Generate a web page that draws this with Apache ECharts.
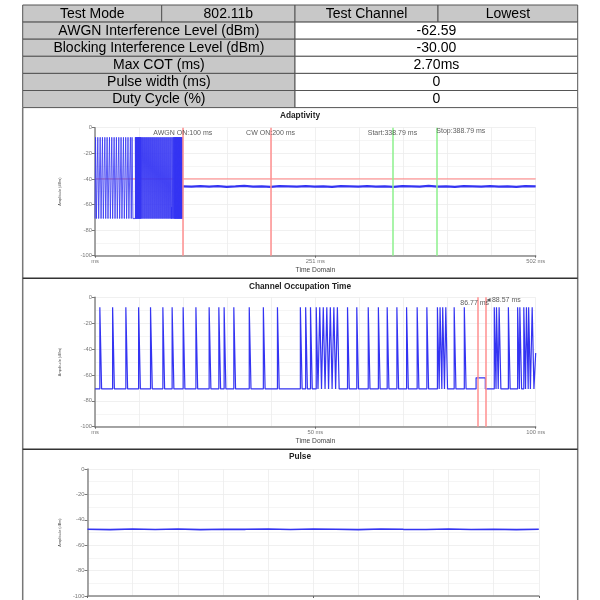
<!DOCTYPE html>
<html>
<head>
<meta charset="utf-8">
<script src="https://cdn.jsdelivr.net/npm/echarts@6/dist/echarts.min.js"></script>
<style>
html,body{margin:0;padding:0;background:#fff;}
#c{width:600px;height:600px;}
</style>
</head>
<body>
<div id="c"></div>
<script>
// ---------- table data ----------
const tableHeader = ['Test Mode', '802.11b', 'Test Channel', 'Lowest'];
const tableLabels = ['AWGN Interference Level (dBm)', 'Blocking Interference Level (dBm)', 'Max COT (ms)', 'Pulse width (ms)', 'Duty Cycle (%)'];
const tableValues = ['-62.59', '-30.00', '2.70ms', '0', '0'];

// ---------- chart titles / axis texts ----------
const chartTitles = ['Adaptivity', 'Channel Occupation Time', 'Pulse'];
const yTicks = [0, -20, -40, -60, -80, -100];
const yAxisName = 'Amplitude (dBm)';
const xAxisName = 'Time Domain';
const adaptXMax = 502;
const cotXMax = 100;
const pulseXMax = 100;

// ---------- Adaptivity (chart 1) ----------
const adaptTop = -7.5;
const adaptBase = -71;
const adaptLightPulses = [0.6, 3.2, 5.9, 8.5, 11.2, 13.8, 16.5, 19.1, 21.8, 24.4, 27.1, 29.7, 32.4, 35.0, 37.6, 40.3, 42.2];
const adaptDensePulses = [46.0, 46.5, 47.0, 47.5, 48.0, 48.6, 49.1, 49.6, 50.1, 50.6, 51.2, 51.7, 52.2,
  53.2, 54.3, 55.5, 56.6, 57.8, 58.9, 60.1, 61.2, 62.4, 63.5, 64.7, 65.8, 67.0, 68.1, 69.3, 70.4, 71.6,
  72.7, 73.9, 75.0, 76.2, 77.3, 78.5, 79.6, 80.8, 81.9, 83.1, 84.2, 85.4, 86.5, 87.7, 88.8, 89.6,
  90.3, 90.8, 91.3, 91.8, 92.3, 92.8, 93.3, 93.8, 94.3, 94.8, 95.3, 95.8, 96.3, 96.8, 97.3, 97.8, 98.3, 98.8, 99.3];
const adaptSpike = [87.25, -62];
const adaptFlat = [[100, -45.8], [110, -46.1], [120, -45.6], [130, -46.0], [140, -45.7], [150, -46.2], [160, -45.9],
  [170, -45.5], [180, -46.0], [190, -45.8], [200, -46.3], [210, -45.7], [220, -45.9], [230, -46.1], [240, -45.6],
  [250, -46.0], [260, -45.8], [270, -46.2], [280, -45.7], [290, -45.9], [300, -46.1], [310, -45.6], [320, -46.0],
  [330, -45.8], [340, -46.2], [350, -45.7], [360, -45.9], [370, -46.1], [380, -45.5], [390, -46.0], [400, -45.8],
  [410, -46.2], [420, -45.7], [430, -45.9], [440, -46.1], [450, -45.6], [460, -46.0], [470, -45.8], [480, -46.2],
  [490, -45.7], [502, -45.9]];
const adaptThreshold = -40;
const adaptMarkers = [
  { x: 100, label: 'AWGN ON:100 ms', color: '#ff8f8f' },
  { x: 200, label: 'CW ON:200 ms', color: '#ff8f8f' },
  { x: 338.79, label: 'Start:338.79 ms', color: '#8cf08c' },
  { x: 388.79, label: 'Stop:388.79 ms', color: '#8cf08c' }
];

// ---------- Channel Occupation Time (chart 2) ----------
const cotTop = -7.7;
const cotBase = -70.8;
const cotPulses = [1.1, 4.0, 7.0, 9.9, 12.6, 15.4, 17.5, 20.0, 22.9, 25.9, 28.1, 29.3, 31.5, 35.0, 38.2, 41.4,
  46.6, 47.8, 48.9, 50.2, 51.0, 51.8, 52.6, 53.4, 54.2, 55.0, 57.3, 59.4, 62.0, 64.3, 66.3, 68.5, 70.7, 73.1,
  75.3, 77.7, 78.3, 78.9, 79.6, 81.5, 83.8, 90.6, 91.1, 91.7, 93.8, 95.9, 96.4, 97.3, 97.9, 98.4, 99.2];
const cotBlock = [86.77, 88.57, -62.2];
const cotEnd = [100, -43];
const cotMarkerLabels = ['86.77 ms', '\u25C488.57 ms'];

// ---------- Pulse (chart 3) ----------
const pulseTrace = [[0, -47.4], [5, -47.7], [10, -47.3], [15, -47.6], [20, -47.2], [25, -47.7], [30, -47.4],
  [35, -47.5], [40, -47.2], [45, -47.6], [50, -47.3], [55, -47.5], [60, -47.7], [65, -47.3], [70, -47.5],
  [75, -47.6], [80, -47.3], [85, -47.6], [90, -47.4], [95, -47.7], [100, -47.5]];

// ---------- helpers ----------
function expandPulses(segs, base) {
  segs.sort((a, b) => a.t - b.t);
  const pts = [];
  segs.forEach(s => { pts.push([s.t, base], [s.t, s.top], [s.t + s.w, s.top], [s.t + s.w, base]); });
  return pts;
}

const BLUE = '#3434f2';
const FONT = 'Liberation Sans';

// chart 1 burst data
const adaptSegs = [];
adaptLightPulses.forEach(t => adaptSegs.push({ t: t, w: 1.0, top: adaptTop }));
adaptDensePulses.forEach(t => adaptSegs.push({ t: t, w: 0.3, top: adaptTop }));
adaptSegs.push({ t: adaptSpike[0], w: 0.1, top: adaptSpike[1] });
const adaptBurst = [[0, adaptBase]].concat(expandPulses(adaptSegs, adaptBase), [[100, adaptBase], [100, adaptFlat[0][1]]]);
const adaptThresholdLine = [[0, adaptThreshold], [adaptXMax, adaptThreshold]];

// chart 2 data
const cotSegs = cotPulses.map(t => ({ t: t, w: 0.4, top: cotTop }));
const cotRaw = expandPulses(cotSegs, cotBase);
const cotData = [[0, cotBase]];
let blockDone = false;
cotRaw.forEach(p => {
  if (!blockDone && p[0] > cotBlock[0]) {
    cotData.push([cotBlock[0] - 0.3, cotBase], [cotBlock[0] - 0.3, cotBlock[2]], [cotBlock[1], cotBlock[2]], [cotBlock[1], cotBase]);
    blockDone = true;
  }
  cotData.push(p);
});
cotData.push([cotEnd[0] - 0.1, cotBase], [cotEnd[0], cotBase], [cotEnd[0], cotEnd[1]]);

// ---------- table graphics ----------
const graphics = [];
const rowTop = 5, rowH = 17.1;
const tL = 22.7, tR = 577.7, tMid = 295;
const headCols = [tL, 161.7, tMid, 438, tR];
function cell(x0, x1, y0, fill, text) {
  graphics.push({ type: 'rect', shape: { x: x0, y: y0, width: x1 - x0, height: rowH },
    style: { fill: fill, stroke: '#555', lineWidth: 1 } });
  graphics.push({ type: 'text', x: (x0 + x1) / 2, y: y0 + rowH / 2 + 0.5,
    style: { text: text, fill: '#000', font: '14px "' + FONT + '"', textAlign: 'center', textVerticalAlign: 'middle' } });
}
tableHeader.forEach((h, i) => cell(headCols[i], headCols[i + 1], rowTop, '#c8c8c8', h));
tableLabels.forEach((lab, i) => {
  const y0 = rowTop + rowH * (i + 1);
  cell(tL, tMid, y0, '#c8c8c8', lab);
  cell(tMid, tR, y0, '#ffffff', tableValues[i]);
});
const tableBottom = rowTop + rowH * 6;
// panel borders
graphics.push({ type: 'line', shape: { x1: tL, y1: tableBottom, x2: tL, y2: 600 }, style: { stroke: '#777', lineWidth: 1.5 } });
graphics.push({ type: 'line', shape: { x1: tR, y1: tableBottom, x2: tR, y2: 600 }, style: { stroke: '#777', lineWidth: 1.5 } });
[278.3, 449.3].forEach(y => graphics.push({ type: 'line', shape: { x1: tL, y1: y, x2: tR, y2: y }, style: { stroke: '#333', lineWidth: 1.5 } }));

// ---------- axes ----------
const grids = [
  { left: 95, top: 127.7, width: 440.7, height: 128 },
  { left: 95, top: 297.3, width: 440.7, height: 129.4 },
  { left: 87.5, top: 469, width: 451.3, height: 127 }
].map(g => Object.assign(g, { containLabel: false, outerBoundsMode: 'none' }));

function xAx(idx, max, nameGap) {
  return {
    gridIndex: idx, type: 'value', min: 0, max: max, interval: max / 2,
    name: xAxisName, nameLocation: 'middle', nameGap: nameGap,
    nameTextStyle: { fontSize: 6.7, color: '#444', fontFamily: FONT },
    axisLine: { show: true, onZero: false, lineStyle: { color: '#888', width: 1.5 } },
    axisTick: { show: true, length: 2, lineStyle: { color: '#666' } },
    axisLabel: { fontSize: 5.8, color: '#777', margin: 3, fontFamily: FONT, showMaxLabel: true, showMinLabel: true,
      formatter: v => v === 0 ? 'ms' : v + ' ms' },
    splitLine: { show: true, lineStyle: { color: '#ececec', width: 0.8 } },
    minorTick: { show: false, splitNumber: 5 },
    minorSplitLine: { show: true, lineStyle: { color: '#ececec', width: 0.8 } }
  };
}
function yAx(idx, nameGap) {
  return {
    gridIndex: idx, type: 'value', min: yTicks[yTicks.length - 1], max: yTicks[0], interval: 20,
    name: yAxisName, nameLocation: 'middle', nameGap: nameGap, nameRotate: 90,
    nameTextStyle: { fontSize: 3.8, color: '#444', fontFamily: FONT },
    axisLine: { show: true, lineStyle: { color: '#888', width: 1.5 } },
    axisTick: { show: true, length: 3, lineStyle: { color: '#777' } },
    axisLabel: { fontSize: 5.8, color: '#777', margin: 3, fontFamily: FONT },
    splitLine: { show: true, lineStyle: { color: '#ececec', width: 0.8 } },
    minorTick: { show: false, splitNumber: 2 },
    minorSplitLine: { show: true, lineStyle: { color: '#f3f3f3', width: 0.8 } }
  };
}

const labelStyle = { fontSize: 7, color: '#333', fontFamily: FONT };
const HIDDEN = 'rgba(0,0,0,0)';

const option = {
  animation: false,
  backgroundColor: '#fff',
  title: chartTitles.map((t, i) => ({
    text: t, left: 'center', top: [112, 283, 453][i], padding: 0,
    textStyle: { fontSize: 8.3, fontWeight: 'bold', color: '#222', fontFamily: FONT }
  })),
  graphic: graphics,
  grid: grids,
  xAxis: [xAx(0, adaptXMax, 11), xAx(1, cotXMax, 11), Object.assign(xAx(2, pulseXMax, 11), { name: '' })],
  yAxis: [yAx(0, 33), yAx(1, 33), yAx(2, 26)],
  series: [
    {
      type: 'line', xAxisIndex: 0, yAxisIndex: 0, data: adaptThresholdLine, showSymbol: false, symbol: 'none',
      lineStyle: { color: '#ff8080', width: 1 }, itemStyle: { color: '#ff8080' }, z: 2, silent: true
    },
    {
      type: 'line', xAxisIndex: 0, yAxisIndex: 0, data: adaptBurst, showSymbol: false, symbol: 'none',
      lineStyle: { color: BLUE, width: 0.8 }, z: 3,
      markLine: {
        silent: true, symbol: ['none', 'none'], label: { show: false }, animation: false,
        data: adaptMarkers.map(m => ({ xAxis: m.x, lineStyle: { color: m.color, width: 1.5, type: 'solid' } }))
      }
    },
    {
      type: 'line', xAxisIndex: 0, yAxisIndex: 0, data: adaptFlat, showSymbol: false, symbol: 'none',
      lineStyle: { color: BLUE, width: 2.3 }, z: 3
    },
    {
      type: 'scatter', xAxisIndex: 0, yAxisIndex: 0, symbolSize: 1, itemStyle: { color: HIDDEN }, z: 6, silent: true,
      label: { show: true, position: 'inside', ...labelStyle },
      data: adaptMarkers.map((m, i) => ({
        name: m.label, value: [m.x, i === 3 ? -2.3 : -4.1],
        label: { show: true, position: 'inside', align: i === 3 ? 'left' : 'center', formatter: m.label, ...labelStyle }
      }))
    },
    {
      type: 'line', xAxisIndex: 1, yAxisIndex: 1, data: cotData, showSymbol: false, symbol: 'none',
      lineStyle: { color: BLUE, width: 1.2 }, z: 3,
      markLine: {
        silent: true, symbol: ['none', 'none'], label: { show: false }, animation: false,
        data: [{ xAxis: cotBlock[0] }, { xAxis: cotBlock[1] }],
        lineStyle: { color: '#ff8f8f', width: 1.5, type: 'solid' }
      }
    },
    {
      type: 'scatter', xAxisIndex: 1, yAxisIndex: 1, symbolSize: 1, itemStyle: { color: HIDDEN }, z: 6, silent: true,
      label: { show: true, position: 'inside', ...labelStyle },
      data: [
        { value: [86.16, -4.2], label: { show: true, position: 'inside', align: 'center', formatter: cotMarkerLabels[0], ...labelStyle } },
        { value: [88.5, -2.1], label: { show: true, position: 'inside', align: 'left', formatter: cotMarkerLabels[1], ...labelStyle } }
      ]
    },
    {
      type: 'line', xAxisIndex: 2, yAxisIndex: 2, data: pulseTrace, showSymbol: false, symbol: 'none',
      lineStyle: { color: BLUE, width: 1.6 }, z: 3
    }
  ]
};

const chart = echarts.init(document.getElementById('c'), null, { renderer: 'canvas' });
chart.setOption(option);
</script>
</body>
</html>
